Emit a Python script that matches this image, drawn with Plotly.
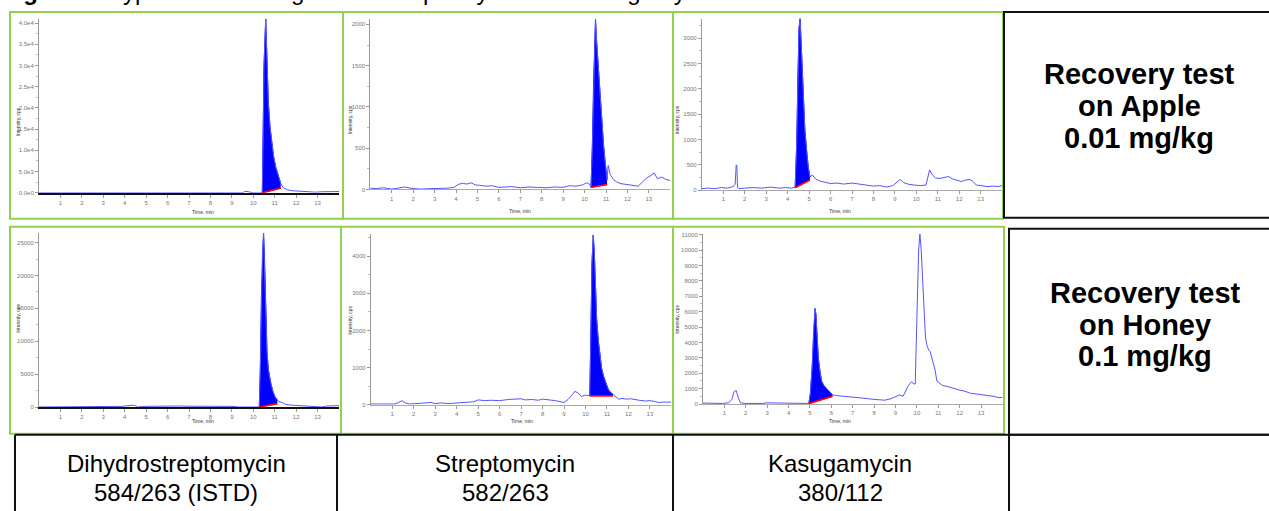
import plotly.graph_objects as go

W, H = 1269, 511

# ---------------- data ----------------
x_ticks = [1, 2, 3, 4, 5, 6, 7, 8, 9, 10, 11, 12, 13]

# Panel 1 : Dihydrostreptomycin - Apple
p1_x = [0, 1, 2, 3, 4, 5, 6, 7, 8, 9, 9.5, 9.6, 9.7, 9.8, 10.0, 10.2, 10.35,
        10.42, 10.46, 10.50, 10.58, 10.62, 10.66, 10.70, 10.78, 10.86, 10.95, 11.05, 11.17, 11.28,
        11.4, 11.6, 11.8, 12.0, 12.3, 12.6, 12.9, 13.2, 13.5, 13.8, 14.0]
p1_y = [0, 0, 0, 0, 0, 0, 0, 0, 0, 0, 0, 300, 350, 200, 0, 0, 0,
        0, 12000, 30000, 41000, 34000, 27000, 21500, 15500, 11500, 8500, 6000, 3800, 2200,
        1200, 700, 500, 450, 380, 200, 150, 250, 300, 320, 300]
p1_pk_x = [10.42, 10.46, 10.50, 10.58, 10.62, 10.66, 10.70, 10.78, 10.86, 10.95, 11.05, 11.17, 11.28]
p1_pk_y = [0, 12000, 30000, 41000, 34000, 27000, 21500, 15500, 11500, 8500, 6000, 3800, 2200]
p1_bl_x = [10.42, 11.28]
p1_bl_y = [0, 1100]
p1_yticks = [0, 5000, 10000, 15000, 20000, 25000, 30000, 35000, 40000]
p1_ytext = ["0.0e0", "5.0e3", "1.0e4", "1.5e4", "2.0e4", "2.5e4", "3.0e4", "3.5e4", "4.0e4"]

# Panel 2 : Streptomycin - Apple
p2_x = [0, 0.3, 0.6, 1.0, 1.3, 1.6, 2.0, 2.4, 2.8, 3.2, 3.6, 3.9, 4.1, 4.3, 4.5, 4.7, 4.9,
        5.1, 5.4, 5.7, 6.0, 6.3, 6.6, 7.0, 7.4, 7.8, 8.2, 8.6, 9.0, 9.3, 9.6, 9.9, 10.1, 10.25,
        10.30, 10.36, 10.42, 10.47, 10.51, 10.56, 10.62, 10.68, 10.74, 10.80, 10.88, 10.96, 11.05,
        11.1, 11.2, 11.35, 11.5, 11.7, 12.0, 12.3, 12.5, 12.7, 12.9, 13.1, 13.25, 13.4, 13.6, 13.8, 14.0]
p2_y = [15, 10, 20, 5, 15, 30, 10, 5, 10, 8, 15, 25, 60, 75, 65, 80, 55,
        50, 40, 45, 25, 30, 35, 20, 30, 25, 20, 30, 25, 45, 40, 55, 80, 60,
        25, 500, 1300, 1850, 2060, 1800, 1550, 1300, 1100, 850, 550, 330, 120,
        290, 180, 120, 90, 70, 60, 50, 40, 90, 140, 170, 200, 130, 150, 120, 110]
p2_pk_x = [10.30, 10.36, 10.42, 10.47, 10.51, 10.56, 10.62, 10.68, 10.74, 10.80, 10.88, 10.96, 11.05]
p2_pk_y = [25, 500, 1300, 1850, 2060, 1800, 1550, 1300, 1100, 850, 550, 330, 120]
p2_bl_x = [10.30, 11.05]
p2_bl_y = [25, 60]
p2_yticks = [0, 500, 1000, 1500, 2000]
p2_ytext = ["0", "500", "1000", "1500", "2000"]

# Panel 3 : Kasugamycin - Apple
p3_x = [0, 0.3, 0.6, 0.9, 1.2, 1.45, 1.55, 1.6, 1.63, 1.66, 1.72, 2.0, 2.4, 2.8, 3.2, 3.6, 3.9, 4.2, 4.32,
        4.35, 4.42, 4.48, 4.53, 4.58, 4.63, 4.68, 4.73, 4.80, 4.88, 4.96, 5.04,
        5.15, 5.3, 5.5, 5.7, 6.0, 6.3, 6.6, 7.0, 7.3, 7.6, 8.0, 8.3, 8.6, 8.9, 9.1, 9.25, 9.4, 9.6,
        9.9, 10.2, 10.45, 10.55, 10.62, 10.75, 10.9, 11.1, 11.3, 11.5, 11.7, 11.9, 12.1, 12.3,
        12.5, 12.65, 12.8, 13.0, 13.3, 13.6, 13.8, 14.0]
p3_y = [30, 40, 30, 50, 40, 70, 110, 500, 480, 60, 30, 40, 50, 40, 60, 40, 50, 40, 50,
        60, 900, 2300, 3200, 3390, 2900, 2300, 1750, 1200, 800, 450, 260,
        300, 220, 180, 160, 130, 140, 120, 140, 120, 110, 80, 90, 60, 90, 150, 210, 150, 120,
        100, 90, 100, 300, 400, 300, 240, 230, 250, 270, 220, 200, 170, 200,
        210, 170, 100, 90, 70, 80, 70, 90]
p3_pk_x = [4.35, 4.42, 4.48, 4.53, 4.58, 4.63, 4.68, 4.73, 4.80, 4.88, 4.96, 5.04]
p3_pk_y = [60, 900, 2300, 3200, 3390, 2900, 2300, 1750, 1200, 800, 450, 260]
p3_bl_x = [4.35, 5.04]
p3_bl_y = [50, 200]
p3_yticks = [0, 500, 1000, 1500, 2000, 2500, 3000]
p3_ytext = ["0", "500", "1000", "1500", "2000", "2500", "3000"]

# Panel 4 : Dihydrostreptomycin - Honey
p4_x = [0, 1, 2, 3, 3.8, 3.9, 4.0, 4.2, 4.4, 4.5, 4.6, 5.0, 5.5, 6.0, 6.5, 7.0, 7.5, 8.0, 8.5,
        9.0, 9.3, 9.6, 9.9, 10.1, 10.25,
        10.28, 10.33, 10.38, 10.43, 10.48, 10.53, 10.58, 10.64, 10.70, 10.77, 10.83, 10.92, 11.02, 11.12,
        11.2, 11.35, 11.5, 11.7, 12.0, 12.3, 12.6, 12.9, 13.2, 13.4, 13.7, 14.0]
p4_y = [0, 0, 0, 0, 0, 100, 150, 250, 280, 200, 0, 100, 150, 130, 150, 120, 140, 150, 120,
        100, 0, 0, 50, 0, 0,
        0, 6000, 17000, 24000, 26400, 22000, 15000, 8400, 5800, 4300, 3400, 2300, 1500, 1000,
        800, 700, 400, 300, 250, 200, 100, 0, 0, 150, 200, 200]
p4_pk_x = [10.28, 10.33, 10.38, 10.43, 10.48, 10.53, 10.58, 10.64, 10.70, 10.77, 10.83, 10.92, 11.02, 11.12]
p4_pk_y = [0, 6000, 17000, 24000, 26400, 22000, 15000, 8400, 5800, 4300, 3400, 2300, 1500, 1000]
p4_bl_x = [10.28, 11.12]
p4_bl_y = [0, 500]
p4_yticks = [0, 5000, 10000, 15000, 20000, 25000]
p4_ytext = ["0", "5000", "10000", "15000", "20000", "25000"]

# Panel 5 : Streptomycin - Honey
p5_x = [0, 0.4, 0.8, 1.1, 1.3, 1.45, 1.6, 1.8, 2.1, 2.5, 2.8, 3.0, 3.3, 3.6, 4.0, 4.4, 4.8, 5.0,
        5.3, 5.6, 6.0, 6.4, 6.8, 7.0, 7.2, 7.5, 7.8, 8.0, 8.3, 8.6, 9.0, 9.2, 9.4, 9.5, 9.65, 9.8,
        10.0, 10.15,
        10.20, 10.25, 10.30, 10.36, 10.41, 10.46, 10.52, 10.60, 10.68, 10.75, 10.85, 10.95, 11.05, 11.15, 11.28,
        11.4, 11.55, 11.7, 11.9, 12.1, 12.3, 12.5, 12.8, 13.0, 13.2, 13.4, 13.6, 13.8, 14.0]
p5_y = [20, 20, 15, 20, 60, 110, 50, 20, 30, 40, 60, 30, 50, 30, 50, 70, 80, 130,
        110, 120, 110, 140, 150, 160, 130, 140, 120, 150, 130, 110, 60, 150, 280, 360, 320, 220,
        260, 240,
        240, 1800, 3800, 4570, 4100, 3300, 2300, 1700, 1250, 980, 750, 560, 430, 340, 280,
        200, 150, 170, 150, 160, 130, 120, 100, 110, 90, 60, 70, 60, 70]
p5_pk_x = [10.20, 10.25, 10.30, 10.36, 10.41, 10.46, 10.52, 10.60, 10.68, 10.75, 10.85, 10.95, 11.05, 11.15, 11.28]
p5_pk_y = [240, 1800, 3800, 4570, 4100, 3300, 2300, 1700, 1250, 980, 750, 560, 430, 340, 280]
p5_bl_x = [10.20, 11.28]
p5_bl_y = [240, 240]
p5_yticks = [0, 1000, 2000, 3000, 4000]
p5_ytext = ["0", "1000", "2000", "3000", "4000"]

# Panel 6 : Kasugamycin - Honey
p6_x = [0, 0.3, 0.6, 0.9, 1.2, 1.35, 1.45, 1.55, 1.65, 1.75, 1.9, 2.2, 2.5, 2.8, 3.0, 3.4, 3.8,
        4.2, 4.6, 4.9,
        4.95, 5.02, 5.10, 5.18, 5.24, 5.28, 5.33, 5.39, 5.46, 5.54, 5.65, 5.78, 5.92, 6.05,
        6.2, 6.5, 7.0, 7.5, 8.0, 8.5, 8.8, 9.0, 9.2, 9.35, 9.45, 9.6, 9.75, 9.85, 9.92, 9.97,
        10.03, 10.08, 10.14, 10.2, 10.27, 10.33, 10.4, 10.47, 10.55, 10.62, 10.7, 10.78, 10.85,
        10.93, 11.05, 11.2, 11.4, 11.6, 11.8, 12.0, 12.2, 12.5, 12.8, 13.0, 13.3, 13.6, 13.8, 14.0]
p6_y = [60, 50, 60, 40, 80, 300, 800, 880, 400, 80, 40, 30, 60, 40, 80, 50, 60,
        50, 60, 70,
        40, 700, 2300, 5000, 6200, 5800, 4500, 3000, 2200, 1500, 1200, 1000, 800, 600,
        550, 500, 450, 380, 300, 250, 350, 450, 600, 500, 800, 1200, 1450, 1300, 1300, 4000,
        8500, 10000, 11050, 10000, 8000, 6000, 4300, 3800, 3500, 3400, 3000, 2700, 2200,
        1500, 1350, 1200, 1150, 1050, 1000, 900, 850, 700, 650, 600, 550, 500, 420, 430]
p6_pk_x = [4.95, 5.02, 5.10, 5.18, 5.24, 5.28, 5.33, 5.39, 5.46, 5.54, 5.65, 5.78, 5.92, 6.05]
p6_pk_y = [40, 700, 2300, 5000, 6200, 5800, 4500, 3000, 2200, 1500, 1200, 1000, 800, 600]
p6_bl_x = [4.95, 6.05]
p6_bl_y = [30, 500]
p6_yticks = [0, 1000, 2000, 3000, 4000, 5000, 6000, 7000, 8000, 9000, 10000, 11000]
p6_ytext = ["0", "1000", "2000", "3000", "4000", "5000", "6000", "7000", "8000", "9000", "10000", "11000"]

row_labels = [["Recovery test", "on Apple", "0.01 mg/kg"],
              ["Recovery test", "on Honey", "0.1 mg/kg"]]
col_labels = [["Dihydrostreptomycin", "584/263 (ISTD)"],
              ["Streptomycin", "582/263"],
              ["Kasugamycin", "380/112"]]
title_bold = "Figure 1:"
title_rest = "Typical chromatogram of Streptomycin and Kasugamycin"

# ---------------- layout helpers ----------------
def fx(px):
    return px / W

def fy(py):
    return 1 - py / H

panels = [
    dict(x=p1_x, y=p1_y, pkx=p1_pk_x, pky=p1_pk_y, blx=p1_bl_x, bly=p1_bl_y,
         yt=p1_yticks, ytt=p1_ytext, box=(39, 339, 192.7, 17), ymax=41000, minor=2500, dark=True,
         ytitle=(13, 105), xtitle=(190, 212)),
    dict(x=p2_x, y=p2_y, pkx=p2_pk_x, pky=p2_pk_y, blx=p2_bl_x, bly=p2_bl_y,
         yt=p2_yticks, ytt=p2_ytext, box=(370.3, 670.3, 189.3, 17), ymax=2067, minor=250, dark=False,
         ytitle=(345, 103), xtitle=(520, 211)),
    dict(x=p3_x, y=p3_y, pkx=p3_pk_x, pky=p3_pk_y, blx=p3_bl_x, bly=p3_bl_y,
         yt=p3_yticks, ytt=p3_ytext, box=(701.9, 1002.1, 190, 16.7), ymax=3391, minor=250, dark=False,
         ytitle=(677, 103), xtitle=(853, 211)),
    dict(x=p4_x, y=p4_y, pkx=p4_pk_x, pky=p4_pk_y, blx=p4_bl_x, bly=p4_bl_y,
         yt=p4_yticks, ytt=p4_ytext, box=(39, 339, 409, 233), ymax=26500, minor=2500, dark=True,
         ytitle=(13, 320), xtitle=(190, 428)),
    dict(x=p5_x, y=p5_y, pkx=p5_pk_x, pky=p5_pk_y, blx=p5_bl_x, bly=p5_bl_y,
         yt=p5_yticks, ytt=p5_ytext, box=(370.8, 671.4, 406.7, 234), ymax=4605, minor=500, dark=False,
         ytitle=(345, 322), xtitle=(522, 428)),
    dict(x=p6_x, y=p6_y, pkx=p6_pk_x, pky=p6_pk_y, blx=p6_bl_x, bly=p6_bl_y,
         yt=p6_yticks, ytt=p6_ytext, box=(703, 1002.5, 406, 234), ymax=11060, minor=500, dark=False,
         ytitle=(677, 321), xtitle=(853, 428)),
]

fig = go.Figure()
layout = dict(width=W, height=H, margin=dict(l=0, r=0, t=0, b=0, pad=0),
              paper_bgcolor="white", plot_bgcolor="white", showlegend=False,
              font=dict(family="Liberation Sans, Arial, sans-serif"))

annotations = []
tick_font = dict(size=6, color="#777777", family="Liberation Sans, Arial")
line_col = "rgb(85,85,255)"

for i, p in enumerate(panels, start=1):
    xa = "x" if i == 1 else f"x{i}"
    ya = "y" if i == 1 else f"y{i}"
    xk = "xaxis" if i == 1 else f"xaxis{i}"
    yk = "yaxis" if i == 1 else f"yaxis{i}"
    x0, x1, yb, yt = p["box"]
    fig.add_trace(go.Scatter(x=p["blx"], y=p["bly"], mode="lines",
                             line=dict(color="red", width=1.2), xaxis=xa, yaxis=ya,
                             hoverinfo="skip"))
    fig.add_trace(go.Scatter(x=p["pkx"], y=p["pky"], mode="lines", fill="tonexty",
                             fillcolor="#0000ff", line=dict(color="#0000ff", width=1),
                             xaxis=xa, yaxis=ya))
    fig.add_trace(go.Scatter(x=p["x"], y=p["y"], mode="lines",
                             line=dict(color=line_col, width=1), xaxis=xa, yaxis=ya))
    fig.add_trace(go.Scatter(x=p["blx"], y=p["bly"], mode="lines",
                             line=dict(color="red", width=1.5), xaxis=xa, yaxis=ya,
                             hoverinfo="skip"))
    layout[xk] = dict(domain=[fx(x0), fx(x1)], range=[0, 14], anchor=ya,
                      tickmode="array", tickvals=x_ticks, ticktext=[str(t) for t in x_ticks],
                      ticks="outside", ticklen=3, tickcolor="#999999",
                      showline=True, linecolor="#111111" if p["dark"] else "#aaaaaa",
                      linewidth=2 if p["dark"] else 1,
                      showgrid=False, zeroline=False, tickfont=tick_font)
    layout[yk] = dict(domain=[fy(yb), fy(yt)], range=[0, p["ymax"]], anchor=xa,
                      tickmode="array", tickvals=p["yt"], ticktext=p["ytt"],
                      ticks="outside", ticklen=3, tickcolor="#999999",
                      minor=dict(dtick=p["minor"], tick0=0, ticks="outside", ticklen=2,
                                 tickcolor="#bbbbbb"),
                      showline=True, linecolor="#999999", linewidth=1,
                      showgrid=False, zeroline=False, tickfont=tick_font)
    tx, ty = p["ytitle"]
    annotations.append(dict(text="Intensity, cps", x=fx(tx), y=fy(ty), xref="paper", yref="paper",
                            showarrow=False, textangle=-90, font=dict(size=5, color="#333333")))
    tx, ty = p["xtitle"]
    annotations.append(dict(text="Time, min", x=fx(tx), y=fy(ty), xref="paper", yref="paper",
                            showarrow=False, font=dict(size=5, color="#333333")))

row_centers = [(1139, [73, 105, 137]), (1145, [294, 326, 357])]
for lines, (cx, cys) in zip(row_labels, row_centers):
    for txt, cy in zip(lines, cys):
        annotations.append(dict(text=f"<b>{txt}</b>", x=fx(cx), y=fy(cy), xref="paper", yref="paper",
                                showarrow=False, xanchor="center", yanchor="middle",
                                font=dict(size=29, color="black", family="Liberation Sans, Arial")))

col_centers = [176, 505, 840]
for lines, cx in zip(col_labels, col_centers):
    for txt, cy in zip(lines, [466.5, 495]):
        annotations.append(dict(text=txt, x=fx(cx), y=fy(cy), xref="paper", yref="paper",
                                showarrow=False, xanchor="center", yanchor="middle",
                                font=dict(size=24, color="black", family="Liberation Sans, Arial")))

# title, cut off by the top edge as in the reference
annotations.append(dict(text=f"<b>{title_bold}</b> {title_rest}", x=fx(0), y=fy(5),
                        xref="paper", yref="paper",
                        showarrow=False, xanchor="left", yanchor="bottom",
                        font=dict(size=24, color="black", family="Liberation Sans, Arial")))

green = "#92D050"
black = "#111111"
shapes = []

def rect(x0, y0, x1, y1, color, w):
    shapes.append(dict(type="rect", xref="paper", yref="paper",
                       x0=fx(x0), x1=fx(x1), y0=fy(y1), y1=fy(y0),
                       line=dict(color=color, width=w), fillcolor="rgba(0,0,0,0)"))

def line(x0, y0, x1, y1, color, w):
    shapes.append(dict(type="line", xref="paper", yref="paper",
                       x0=fx(x0), x1=fx(x1), y0=fy(y0), y1=fy(y1),
                       line=dict(color=color, width=w)))

rect(10, 10, 343, 219, green, 2)
rect(343, 10, 673, 219, green, 2)
rect(673, 10, 1003, 219, green, 2)
rect(10, 227, 341, 436, green, 2)
rect(341, 227, 673, 436, green, 2)
rect(673, 227, 1004, 436, green, 2)
rect(1004, 10, 1275, 218, black, 2)
rect(1009, 229, 1275, 437, black, 2)
line(15, 437, 1269, 437, black, 2)
for vx in [15, 337, 673, 1009]:
    line(vx, 437, vx, 515, black, 2)

layout["annotations"] = annotations
layout["shapes"] = shapes
fig.update_layout(**layout)

fig.write_html("out.html", config={"displayModeBar": False},
               post_script="document.body.style.margin='0';document.body.style.overflow='hidden';")
